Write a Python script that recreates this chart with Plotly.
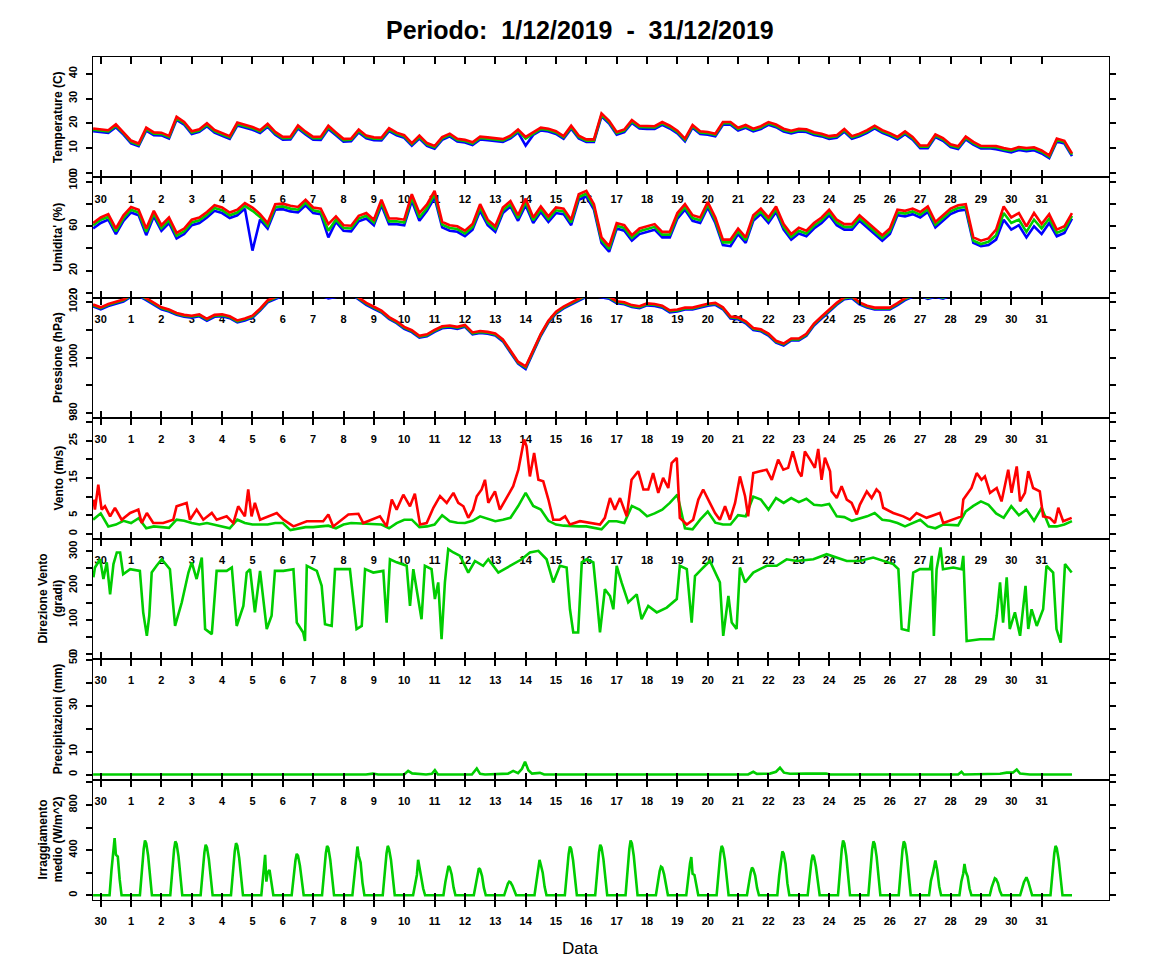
import pandas as pd
import plotly.graph_objects as go

# ---------------- data ----------------
# 6-hourly series starting 2019-11-29 18:00
T_max = [17.9, 17.7, 17.2, 19.6, 16.5, 13.0, 11.8, 18.2, 16.3, 16.2, 14.9, 22.6, 20.5, 16.8, 17.6, 20.0, 17.3, 16.0, 14.8, 20.3,
         19.5, 18.5, 17.2, 19.8, 16.5, 14.5, 14.6, 19.1, 16.6, 14.5, 14.6, 19.0, 16.3, 13.7, 13.8, 17.5, 15.0, 14.3, 14.2, 18.0,
         16.2, 15.2, 12.0, 15.0, 12.0,
         10.8, 14.4, 15.8, 13.7, 13.3, 12.3, 14.6, 14.3, 13.9, 13.6, 15.0, 17.5, 14.5, 16.4, 18.2, 17.8, 16.8, 14.8, 19.0, 15.0,
         13.5, 13.5, 24.0, 21.0, 16.5, 17.5, 21.3, 19.0, 18.8, 18.8, 20.5, 19.0, 17.0, 13.8, 19.3, 16.8, 16.5, 15.8, 20.5, 20.5,
         18.2, 19.3, 17.8, 18.8, 20.5, 19.5, 17.8, 17.0, 17.8, 17.6, 16.4, 15.8, 14.8, 15.2, 17.7, 14.8, 15.8, 17.2, 19.0, 17.2,
         16.0, 14.5, 16.7, 14.5, 11.0, 11.0, 15.5, 14.0, 11.5, 10.7, 14.6, 12.5, 10.9, 11.0, 10.8, 10.0, 9.4, 10.4, 10.0, 10.3,
         9.0, 7.0, 13.8, 12.9, 7.8]
T_mean = [17.4, 17.2, 16.7, 19.0, 16.0, 12.5, 11.3, 17.6, 15.8, 15.7, 14.4, 22.0, 20.0, 16.3, 17.1, 19.4, 16.8, 15.5, 14.3, 19.7,
          19.0, 18.0, 16.7, 19.2, 16.0, 14.0, 14.1, 18.5, 16.1, 14.0, 14.0, 18.4, 15.8, 13.2, 13.3, 16.9, 14.5, 13.8, 13.7, 17.4,
          15.7, 14.7, 11.5, 14.4, 11.5,
          10.3, 13.9, 15.3, 13.2, 12.8, 11.8, 14.1, 13.8, 13.4, 13.1, 14.5, 16.9, 13.8, 15.9, 17.7, 17.3, 16.3, 14.3, 18.4, 14.5,
          13.0, 13.0, 23.4, 20.5, 16.0, 17.0, 20.7, 18.5, 18.3, 18.3, 20.0, 18.5, 16.5, 13.3, 18.8, 16.3, 16.0, 15.3, 20.0, 20.0,
          17.7, 18.8, 17.3, 18.3, 20.0, 19.0, 17.3, 16.5, 17.3, 17.1, 15.9, 15.3, 14.3, 14.7, 17.2, 14.3, 15.3, 16.7, 18.5, 16.7,
          15.5, 14.0, 16.2, 14.0, 10.5, 10.5, 15.0, 13.5, 11.0, 10.2, 14.1, 12.0, 10.4, 10.5, 10.3, 9.4, 8.9, 9.9, 9.4, 9.8,
          8.5, 6.5, 13.2, 12.4, 7.3]
T_min = [16.8, 16.6, 16.1, 18.4, 15.4, 11.9, 10.8, 17.0, 15.2, 15.1, 13.8, 21.4, 19.4, 15.7, 16.5, 18.8, 16.2, 14.9, 13.7, 19.1,
         18.4, 17.4, 16.1, 18.6, 15.4, 13.4, 13.5, 17.9, 15.5, 13.4, 13.3, 17.7, 15.2, 12.6, 12.7, 16.3, 13.9, 13.2, 13.1, 16.8,
         15.1, 14.1, 10.9, 13.8, 10.9,
         9.7, 13.3, 14.7, 12.6, 12.2, 11.2, 13.5, 13.2, 12.8, 12.5, 13.9, 16.3, 11.0, 15.3, 17.1, 16.7, 15.7, 13.7, 17.8, 13.9,
         12.4, 12.4, 22.8, 19.9, 15.4, 16.4, 20.1, 17.9, 17.7, 17.7, 19.4, 17.9, 15.9, 12.7, 18.2, 15.7, 15.4, 14.7, 19.4, 19.4,
         17.1, 18.2, 16.7, 17.7, 19.4, 18.4, 16.7, 15.9, 16.7, 16.5, 15.3, 14.7, 13.7, 14.1, 16.6, 13.7, 14.7, 16.1, 17.9, 16.1,
         14.9, 13.4, 15.6, 13.4, 9.9, 9.9, 14.4, 12.9, 10.4, 9.6, 13.5, 11.4, 9.8, 9.9, 9.5, 8.8, 8.2, 9.2, 8.7, 9.1,
         7.8, 5.9, 12.6, 11.8, 6.7]

H_max = [63, 68, 71, 58, 70, 77.5, 75, 58, 74, 61, 68, 54, 58, 66, 68, 73, 79, 77, 72.5, 75,
         81, 77, 71, 63, 80, 80.5, 78.5, 77.5, 84, 77, 76, 62, 69, 61, 60.5, 69.5, 72, 66, 84, 67,
         67, 66, 89, 72, 79.8,
         92, 64, 61, 60, 56, 62, 80, 66, 60, 77, 82.8, 70, 85, 68, 78, 69, 77, 76, 66, 89,
         92, 80, 50, 42, 63, 61, 52, 58, 60, 62, 55, 55, 72, 80, 70, 68, 82, 68, 48, 48,
         58, 50, 70, 76, 68, 78, 62, 53, 58.8, 56, 63, 68, 75, 66, 62, 62, 70, 64, 58, 52,
         58, 75, 74, 76, 73, 78, 64, 70, 76, 79, 80, 50, 47, 49, 57, 78, 68, 72, 60, 72,
         62, 71, 57, 60, 72]
H_mean = [61, 66, 68.5, 55.5, 67.5, 75, 72.5, 55, 71.5, 58.5, 65.5, 51.5, 55.5, 63.5, 65.5, 70.5, 76.5, 74.5, 70, 72.5,
          78.5, 74, 68.5, 60.5, 77.5, 78, 76, 75, 81.5, 74.5, 73, 56, 66, 58.5, 58, 67, 69.5, 63.5, 81.5, 64.5,
          64.5, 63.5, 86, 68, 76.5,
          89, 61.5, 58.5, 57.5, 53.5, 59.5, 77, 63.5, 57.5, 74.5, 80, 67.5, 82, 65.5, 75.5, 66.5, 74.5, 73.5, 63.5, 86.5,
          89.5, 77.5, 47.5, 39.5, 60.5, 58.5, 49.5, 55.5, 57.5, 59.5, 52.5, 52.5, 69.5, 77.5, 67.5, 65.5, 79.5, 65.5, 45.5, 45.5,
          55.5, 47.5, 67.5, 73.5, 65.5, 75.5, 59.5, 50.5, 56, 53.5, 60.5, 65.5, 72.5, 63.5, 59.5, 59.5, 67.5, 61.5, 55.5, 49.5,
          55.5, 72.5, 71.5, 73.5, 70.5, 75.5, 61.5, 67.5, 73.5, 76.5, 77.5, 47, 44, 46, 52, 72, 63, 66, 55, 66,
          58, 67, 54, 57, 69.5]
H_min = [58, 63, 66, 53, 65, 72.5, 70, 52, 69, 56, 63, 49, 53, 61, 63, 68, 74, 72, 67.5, 70,
         76, 38, 66, 58, 75, 75.5, 73.5, 72.5, 79, 72, 71, 50, 64, 56, 55.5, 64.5, 67, 61, 79, 62,
         62, 61, 83, 65, 74,
         86, 59, 56, 55, 51, 57, 74, 61, 55, 72, 78, 65, 79, 63, 73, 64, 72, 71, 61, 84,
         87, 75, 45, 37, 58, 56, 47, 53, 55, 57, 50, 50, 67, 75, 65, 63, 77, 63, 43, 42,
         53, 45, 65, 71, 63, 73, 57, 48, 53.5, 51, 58, 63, 70, 61, 57, 57, 65, 59, 53, 47,
         53, 70, 69, 71, 68, 73, 59, 65, 71, 74, 75, 45, 42, 43, 48, 66, 57, 61, 50, 60,
         53, 63, 51, 54, 67]

P_max = [1019.0, 1018.0, 1019.2, 1020.0, 1020.8, 1022.5, 1022.8, 1021.3, 1019.7, 1018.0, 1017.2, 1016.0, 1015.3, 1015.0, 1015.5,
         1013.9, 1015.3, 1015.5, 1014.8, 1013.3, 1014.0, 1015.0, 1017.5, 1020.5, 1021.7, 1023.0, 1024.0, 1024.5, 1024.0, 1023.5,
         1023.0, 1023.0, 1022.5, 1023.0, 1023.5, 1021.5, 1019.6, 1018.2, 1016.8, 1014.5, 1013.0, 1011.0, 1009.8, 1007.8, 1008.3,
         1009.9, 1011.2, 1011.5, 1011.0, 1011.7, 1009.0, 1009.5, 1009.2, 1008.6, 1006.5, 1002.5, 998.5, 996.8, 1002.5, 1008.5,
         1013.2, 1016.4, 1018.3, 1019.8, 1021.0, 1022.5, 1022.8, 1022.3, 1021.8, 1020.2, 1019.8, 1018.8, 1018.4, 1019.4, 1019.2,
         1018.6, 1016.9, 1017.2, 1017.9, 1017.9, 1018.5, 1019.3, 1019.6, 1018.0, 1014.7, 1014.4, 1013.0, 1010.6, 1010.1, 1008.6,
         1006.0, 1005.0, 1006.8, 1006.8, 1008.5, 1012.2, 1014.7, 1017.2, 1019.6, 1021.6, 1022.0, 1019.8, 1018.6, 1017.9, 1017.9,
         1017.9, 1019.5, 1021.3, 1022.5, 1022.8, 1021.7, 1022.5, 1021.8, 1023.0, 1024.0, 1025.0, 1026.0, 1027.0, 1028.0, 1028.0,
         1029.0, 1029.0, 1029.0, 1030.0, 1030.0, 1030.0, 1029.0, 1029.0, 1028.0, 1028.0]
P_mean = [1018.7, 1017.7, 1018.9, 1019.7, 1020.5, 1022.2, 1022.5, 1021.0, 1019.4, 1017.7, 1016.9, 1015.7, 1015.0, 1014.7, 1015.2,
          1013.6, 1015.0, 1015.2, 1014.5, 1013.0, 1013.7, 1014.7, 1017.2, 1020.2, 1021.4, 1022.7, 1023.7, 1024.2, 1023.7, 1023.2,
          1022.7, 1022.7, 1022.2, 1022.7, 1023.2, 1021.2, 1019.3, 1017.9, 1016.5, 1014.2, 1012.7, 1010.7, 1009.5, 1007.5, 1008.0,
          1009.6, 1010.9, 1011.2, 1010.7, 1011.4, 1008.7, 1009.2, 1008.9, 1008.3, 1006.2, 1002.2, 998.2, 996.5, 1002.2, 1008.2,
          1012.9, 1016.1, 1018.0, 1019.5, 1020.7, 1022.2, 1022.5, 1022.0, 1021.5, 1019.9, 1019.5, 1018.5, 1018.1, 1019.1, 1018.9,
          1018.3, 1016.6, 1016.9, 1017.6, 1017.6, 1018.2, 1019.0, 1019.3, 1017.7, 1014.4, 1014.1, 1012.7, 1010.3, 1009.8, 1008.3,
          1005.7, 1004.7, 1006.5, 1006.5, 1008.2, 1011.9, 1014.4, 1016.9, 1019.3, 1021.3, 1021.7, 1019.5, 1018.3, 1017.6, 1017.6,
          1017.6, 1019.2, 1021.0, 1022.2, 1022.5, 1021.4, 1022.2, 1021.5, 1022.7, 1023.7, 1024.7, 1025.7, 1026.7, 1027.7, 1027.7,
          1028.7, 1028.7, 1028.7, 1029.7, 1029.7, 1029.7, 1028.7, 1028.7, 1027.7, 1027.7]
P_min = [1018.3, 1017.3, 1018.5, 1019.3, 1020.1, 1021.8, 1022.1, 1020.6, 1019.0, 1017.3, 1016.5, 1015.3, 1014.6, 1014.3, 1014.8,
         1013.2, 1014.6, 1014.8, 1014.1, 1012.6, 1013.3, 1014.3, 1016.8, 1019.8, 1021.0, 1022.3, 1023.3, 1023.8, 1023.3, 1022.8,
         1022.3, 1021.2, 1021.8, 1022.3, 1022.8, 1020.8, 1018.9, 1017.5, 1016.1, 1013.8, 1012.3, 1010.3, 1009.1, 1007.1, 1007.6,
         1009.2, 1010.5, 1010.8, 1010.3, 1011.0, 1008.3, 1008.8, 1008.5, 1007.9, 1005.8, 1001.8, 997.8, 995.9, 1001.8, 1007.8,
         1012.5, 1015.7, 1017.6, 1019.1, 1020.3, 1021.8, 1022.1, 1021.6, 1021.1, 1019.5, 1019.1, 1018.1, 1017.7, 1018.7, 1018.5,
         1017.9, 1016.2, 1016.5, 1017.2, 1017.2, 1017.8, 1018.6, 1018.9, 1017.3, 1014.0, 1013.7, 1012.3, 1009.9, 1009.4, 1007.9,
         1005.3, 1004.3, 1006.1, 1006.1, 1007.8, 1011.5, 1014.0, 1016.5, 1018.9, 1020.9, 1021.3, 1019.1, 1017.9, 1017.2, 1017.2,
         1017.2, 1018.8, 1020.6, 1021.8, 1022.1, 1021.0, 1021.8, 1021.1, 1022.3, 1023.3, 1024.3, 1025.3, 1026.3, 1027.3, 1027.3,
         1028.3, 1028.3, 1028.3, 1029.3, 1029.3, 1029.3, 1028.3, 1028.3, 1027.3, 1027.3]

W_mean = [3.8, 5.5, 2.0, 2.5, 3.5, 2.9, 4.2, 1.5, 2.0, 1.8, 1.6, 3.8, 3.5, 2.9, 2.5, 2.9, 2.5, 2.0, 1.5, 3.8,
          2.9, 2.5, 2.5, 2.5, 2.9, 2.9, 1.0, 1.5, 1.8, 1.8, 2.0, 2.2, 1.5, 2.5, 2.9, 2.8, 2.5, 2.5, 2.5, 1.5,
          2.9, 3.8, 3.8, 1.8, 2.0,
          2.5, 5.0, 3.4, 3.0, 2.9, 3.5, 4.7, 4.0, 3.4, 3.8, 4.3, 7.4, 11.0, 7.5, 6.5, 3.5, 2.5, 2.2, 2.0, 2.0,
          2.0, 1.5, 1.2, 3.4, 3.4, 2.9, 7.5, 6.5, 4.7, 5.5, 6.5, 8.3, 10.5, 1.5, 1.2, 3.8, 6.0, 3.0, 2.5, 2.5,
          5.0, 4.7, 10.0, 9.2, 6.5, 9.6, 8.3, 9.6, 8.5, 9.4, 7.8, 7.6, 8.0, 4.7, 4.5, 3.5, 4.0, 4.7, 5.6, 3.8,
          3.5, 2.9, 2.0, 3.0, 3.8, 2.0, 1.5, 2.5, 2.5, 2.3, 6.0, 7.5, 8.7, 7.8, 5.5, 4.3, 7.4, 5.0, 6.5, 3.5,
          7.0, 2.0, 2.0, 2.5, 3.4]

# wind gust: days after 30 Nov 00:00, m/s
gust_day = [-0.24, -0.19, -0.08, 0.03, 0.14, 0.31, 0.47, 0.69, 0.97, 1.24, 1.35, 1.52, 1.73, 2.06, 2.39, 2.50, 2.83, 2.94,
            3.16, 3.38, 3.66, 3.82, 4.15, 4.37, 4.53, 4.75, 4.86, 4.97, 5.08, 5.25, 5.80, 6.02, 6.35, 6.79, 7.33, 7.50,
            7.66, 8.16, 8.49, 8.65, 9.20, 9.42, 9.59, 9.75, 9.97, 10.19, 10.35, 10.52, 10.74, 10.96, 11.18, 11.40, 11.62,
            11.78, 11.95, 12.11, 12.27, 12.39, 12.55, 12.66, 12.77, 12.99, 13.15, 13.38, 13.59, 13.76, 13.87, 13.95, 14.03,
            14.14, 14.28, 14.42, 14.58, 14.75, 14.91, 15.13, 15.30, 15.46, 15.79, 16.12, 16.45, 16.61, 16.78, 16.94, 17.11,
            17.33, 17.49, 17.71, 17.88, 18.04, 18.20, 18.37, 18.53, 18.70, 18.81, 18.98, 19.08, 19.31, 19.52, 19.69, 19.85,
            20.07, 20.24, 20.40, 20.57, 20.73, 20.90, 21.06, 21.23, 21.33, 21.50, 21.72, 21.94, 22.11, 22.32, 22.49, 22.65,
            22.80, 22.98, 23.09, 23.20, 23.37, 23.53, 23.64, 23.75, 23.86, 24.03, 24.08, 24.25, 24.41, 24.58, 24.74, 24.91,
            25.01, 25.24, 25.40, 25.56, 25.67, 25.78, 26.11, 26.44, 26.66, 26.88, 27.21, 27.65, 27.76, 28.09, 28.36, 28.42,
            28.53, 28.69, 28.86, 29.02, 29.13, 29.30, 29.52, 29.68, 29.90, 30.01, 30.18, 30.29, 30.45, 30.56, 30.72, 30.94,
            31.05, 31.27, 31.44, 31.55, 31.71, 31.99]
gust_ms = [9.2, 6.5, 13.2, 6.5, 7.4, 4.7, 7.0, 3.8, 5.6, 6.5, 2.9, 5.6, 2.9, 2.9, 3.8, 7.4, 8.3, 3.8,
           6.5, 3.8, 5.6, 3.8, 4.7, 2.9, 7.4, 4.7, 11.9, 4.7, 8.3, 3.8, 5.6, 3.8, 2.0, 3.4, 3.4, 5.2,
           2.0, 5.2, 5.4, 2.9, 4.7, 2.0, 9.2, 6.5, 10.5, 7.4, 10.8, 2.5, 2.9, 7.0, 10.1, 8.3, 11.0,
           8.3, 7.4, 4.3, 6.5, 10.1, 11.9, 14.5, 8.3, 11.4, 6.5, 9.6, 12.8, 17.2, 22.6, 25.3, 23.5,
           15.4, 21.7, 14.5, 14.1, 9.2, 3.8, 3.8, 4.7, 2.5, 3.4, 2.9, 2.5, 4.3, 9.6, 6.5, 9.6,
           4.7, 14.5, 16.8, 11.9, 11.9, 16.3, 11.0, 15.0, 12.3, 19.0, 20.4, 4.3, 2.5, 3.8, 9.2, 11.9,
           8.3, 5.6, 3.8, 7.4, 3.8, 8.3, 15.4, 10.1, 4.7, 16.3, 16.8, 17.2, 14.5, 19.9, 17.2, 17.7,
           22.1, 16.8, 15.4, 22.1, 19.9, 17.7, 22.8, 14.5, 20.4, 16.8, 11.4, 9.6, 12.8, 9.2, 8.3, 5.2,
           7.8, 11.4, 9.6, 11.9, 11.0, 7.0, 5.6, 4.7, 3.8, 5.6, 4.3, 5.6, 2.9, 3.8, 4.7, 9.2,
           10.5, 12.3, 16.3, 14.5, 15.4, 11.0, 12.3, 8.7, 17.2, 11.0, 18.1, 8.7, 11.0, 16.8, 12.3, 11.4,
           4.7, 4.3, 2.9, 7.0, 3.4, 4.3]

# wind direction: days after 30 Nov 00:00, degrees
dir_day = [-0.24, -0.19, -0.02, 0.09, 0.20, 0.31, 0.42, 0.53, 0.64, 0.74, 0.97, 1.29, 1.40, 1.52, 1.60, 1.68, 1.84, 2.01,
           2.28, 2.45, 2.67, 2.89, 3.00, 3.16, 3.33, 3.44, 3.66, 3.82, 4.15, 4.32, 4.48, 4.70, 4.81, 4.92, 5.08, 5.25, 5.47,
           5.63, 5.74, 6.02, 6.35, 6.46, 6.67, 6.73, 6.79, 7.12, 7.28, 7.39, 7.61, 7.72, 8.21, 8.43, 8.60, 8.71, 8.98, 9.31,
           9.42, 9.53, 9.75, 10.08, 10.19, 10.30, 10.57, 10.68, 10.90, 11.01, 11.12, 11.23, 11.34, 11.45, 11.62, 11.84, 12.11,
           12.33, 12.60, 12.77, 13.10, 13.48, 13.87, 14.14, 14.42, 14.69, 14.91, 15.13, 15.35, 15.46, 15.57, 15.73, 15.85,
           16.01, 16.23, 16.34, 16.45, 16.61, 16.78, 16.89, 17.00, 17.16, 17.38, 17.66, 17.82, 18.04, 18.32, 18.65, 18.98,
           19.08, 19.31, 19.47, 19.58, 19.80, 20.07, 20.40, 20.51, 20.68, 20.79, 20.95, 21.06, 21.23, 21.50, 21.94, 22.27,
           22.60, 22.93, 23.48, 23.92, 24.58, 25.01, 25.45, 26.11, 26.28, 26.39, 26.61, 26.77, 26.99, 27.32, 27.38, 27.45,
           27.54, 27.67, 27.75, 28.09, 28.36, 28.42, 28.53, 28.97, 29.41, 29.52, 29.63, 29.73, 29.85, 29.95, 30.12, 30.29,
           30.47, 30.56, 30.67, 30.84, 31.05, 31.16, 31.38, 31.49, 31.63, 31.77, 31.99]
dir_deg = [224, 253, 277, 219, 268, 174, 263, 297, 297, 233, 248, 243, 121, 52, 111, 238, 258, 277,
           248, 81, 150, 238, 268, 219, 282, 72, 57, 243, 243, 253, 81, 140, 238, 248, 121, 243, 72,
           111, 243, 243, 248, 91, 62, 37, 258, 243, 199, 86, 81, 248, 248, 72, 81, 248, 238, 243,
           91, 277, 268, 258, 140, 248, 101, 258, 248, 160, 209, 42, 209, 307, 297, 287, 238,
           272, 258, 277, 238, 258, 277, 297, 302, 277, 209, 258, 253, 130, 62, 62, 268,
           277, 268, 169, 62, 189, 169, 130, 258, 209, 150, 174, 101, 140, 121, 135, 160,
           258, 248, 91, 228, 248, 272, 209, 52, 169, 91, 72, 253, 209, 238, 258, 258,
           277, 272, 277, 292, 272, 272, 282, 263, 248, 72, 67, 238, 248, 248, 287, 52,
           248, 312, 248, 253, 248, 287, 37, 42, 42, 111, 209, 91, 224, 72, 121, 52,
           199, 72, 130, 81, 130, 258, 238, 72, 32, 263, 238]

# rain: days after 30 Nov 00:00, mm
rain_day = [-0.25, 8.74, 8.97, 9.14, 10.0, 10.13, 10.26, 10.52, 10.72, 10.91, 11.01, 11.11, 12.23, 12.39, 12.50, 12.66,
            13.15, 13.42, 13.59, 13.75, 13.88, 13.98, 14.09, 14.21, 14.47, 14.61, 21.33, 21.50, 21.62, 22.05, 22.25, 22.38,
            22.51, 22.71, 23.24, 23.90, 24.03, 28.25, 28.36, 28.44, 29.63, 29.85, 30.05, 30.18, 30.29, 30.51, 30.61, 32.0]
rain_mm = [0, 0, 0.4, 0, 0, 1.6, 0.5, 0.3, 0, 0.3, 1.9, 0, 0, 2.6, 0.3, 0,
           0.2, 0.4, 1.6, 0.6, 2.5, 5.6, 1.9, 0.4, 0.7, 0, 0, 1.2, 0.3, 0.4, 1.2, 3.0,
           0.8, 0.3, 0.4, 0.4, 0, 0, 1.2, 0, 0.3, 0.8, 0.8, 2.2, 0.4, 0.3, 0, 0]

# solar radiation: hour of day of each reading, and readings for each day (30 Nov .. 31 Dec)
rad_hours = [7, 8.5, 10, 11, 12, 13.5, 15, 16.5]
rad_by_day = [
    [0, 220, 388, 507, 360, 343, 140, 0], [0, 220, 410, 485, 460, 350, 135, 0], [0, 215, 405, 477, 455, 345, 135, 0],
    [0, 200, 380, 447, 425, 320, 125, 0], [0, 210, 390, 462, 440, 330, 130, 0], [0, 180, 358, 121, 200, 225, 90, 0],
    [0, 165, 310, 367, 350, 265, 100, 0], [0, 195, 370, 438, 420, 315, 120, 0], [0, 180, 330, 432, 350, 290, 110, 0],
    [0, 195, 370, 438, 410, 315, 120, 0], [0, 100, 180, 314, 240, 170, 60, 0], [0, 115, 220, 260, 245, 185, 70, 0],
    [0, 105, 205, 240, 228, 172, 65, 0], [0, 55, 103, 121, 115, 87, 35, 0], [0, 120, 216, 314, 270, 200, 75, 0],
    [0, 195, 365, 432, 410, 310, 120, 0], [0, 200, 380, 447, 425, 320, 125, 0], [0, 220, 410, 485, 460, 350, 135, 0],
    [0, 115, 215, 254, 245, 185, 70, 0], [0, 150, 285, 338, 190, 180, 70, 0], [0, 195, 370, 438, 415, 315, 120, 0],
    [0, 110, 205, 245, 230, 175, 65, 0], [0, 175, 330, 388, 370, 280, 105, 0], [0, 160, 305, 358, 340, 255, 100, 0],
    [0, 220, 410, 485, 460, 350, 135, 0], [0, 215, 405, 477, 455, 345, 135, 0], [0, 215, 405, 477, 455, 345, 135, 0],
    [0, 130, 196, 250, 308, 220, 80, 0], [0, 120, 191, 278, 210, 165, 60, 0], [0, 70, 130, 151, 143, 108, 40, 0],
    [0, 65, 115, 138, 160, 118, 45, 0], [0, 195, 370, 438, 415, 315, 120, 0],
]

day_labels = ["30"] + [str(i) for i in range(1, 32)]

# ---------------- build figure ----------------
BASE = pd.Timestamp("2019-11-30 00:00")
START6 = pd.Timestamp("2019-11-29 18:00")


def t6(vals):
    return pd.date_range(START6, periods=len(vals), freq="6h")


def tdays(days):
    return BASE + pd.to_timedelta(days, unit="D")


rad_t = [BASE - pd.Timedelta(hours=6)]
rad_v = [0]
for k, vals in enumerate(rad_by_day):
    for h, v in zip(rad_hours, vals):
        rad_t.append(BASE + pd.Timedelta(days=k, hours=h))
        rad_v.append(v)
rad_t.append(BASE + pd.Timedelta(days=32))
rad_v.append(0)

BLUE, GREEN, RED = "#0000FF", "#00CD00", "#FF0000"
LW = 2.6

panels = [
    dict(series=[(t6(T_min), T_min, BLUE), (t6(T_mean), T_mean, GREEN), (t6(T_max), T_max, RED)],
         rng=[-1.9, 46.8], ticks=[0, 10, 20, 30, 40], labels=["0", "10", "20", "30", "40"],
         title="Temperature (C)"),
    dict(series=[(t6(H_min), H_min, BLUE), (t6(H_mean), H_mean, GREEN), (t6(H_max), H_max, RED)],
         rng=[-4.7, 104.2], ticks=[0, 20, 40, 60, 80, 100], labels=["0", "20", "", "60", "", "100"],
         title="Umidita' (%)"),
    dict(series=[(t6(P_min), P_min, BLUE), (t6(P_mean), P_mean, GREEN), (t6(P_max), P_max, RED)],
         rng=[978.2, 1021.4], ticks=[980, 990, 1000, 1010, 1020], labels=["980", "", "1000", "", "1020"],
         title="Pressione (hPa)"),
    dict(series=[(t6(W_mean), W_mean, GREEN), (tdays(gust_day), gust_ms, RED)],
         rng=[-1.3, 31.0], ticks=[0, 5, 10, 15, 20, 25, 30], labels=["0", "5", "", "15", "", "25", ""],
         title="Vento (m/s)"),
    dict(series=[(tdays(dir_day), dir_deg, GREEN)],
         rng=[-16.5, 337.5], ticks=[0, 50, 100, 150, 200, 250, 300], labels=["0", "", "100", "", "200", "", "300"],
         title="Direzione Vento<br>(gradi)"),
    dict(series=[(tdays(rain_day), rain_mm, GREEN)],
         rng=[-2.2, 50.2], ticks=[0, 10, 20, 30, 40, 50], labels=["0", "10", "", "30", "", "50"],
         title="Precipitazioni (mm)"),
    dict(series=[(rad_t, rad_v, GREEN)],
         rng=[-41.8, 1025], ticks=[0, 200, 400, 600, 800, 1000], labels=["0", "", "400", "", "800", ""],
         title="Irraggiamento<br>medio (W/m^2)"),
]

FIG_W, FIG_H = 1152, 972
ML, MR, MT, MB = 93, 43, 57, 72
plot_w = FIG_W - ML - MR
plot_h = FIG_H - MT - MB
n = len(panels)

FONT = "Liberation Sans, Arial, Helvetica, sans-serif"
tickfont = dict(family=FONT, size=11, color="black", weight="bold")
xr = [BASE + pd.Timedelta(days=-0.254), BASE + pd.Timedelta(days=33.22)]
xticks = [BASE + pd.Timedelta(days=k) for k in range(32)]
AXW = 1.0

fig = go.Figure()
layout = {}
annotations = []
for i, p in enumerate(panels):
    idx = "" if i == 0 else str(i + 1)
    top = 1 - i / n
    bot = 1 - (i + 1) / n
    for (x, y, c) in p["series"]:
        fig.add_trace(go.Scatter(x=x, y=y, mode="lines", line=dict(color=c, width=LW),
                                 xaxis="x" + idx, yaxis="y" + idx, showlegend=False,
                                 hoverinfo="skip"))
    layout["xaxis" + idx] = dict(
        domain=[0, 1], anchor="y" + idx, type="date", range=xr,
        tickmode="array", tickvals=xticks, ticktext=day_labels,
        ticks="inside", ticklen=7, tickwidth=1.6, tickcolor="black",
        showline=True, linecolor="black", linewidth=AXW, mirror="ticks",
        showgrid=False, zeroline=False, tickfont=tickfont, ticklabelstandoff=11,
    )
    layout["yaxis" + idx] = dict(
        domain=[bot, top], anchor="x" + idx, range=p["rng"],
        tickmode="array", tickvals=p["ticks"], ticktext=p["labels"],
        ticks="outside", ticklen=6, tickwidth=1.6, tickcolor="black",
        showline=True, linecolor="black", linewidth=AXW, mirror="ticks",
        showgrid=False, zeroline=False, tickangle=-90, tickfont=tickfont,
        ticklabelstandoff=5,
    )
    two = "<br>" in p["title"]
    cx = 50.5 if two else 58
    annotations.append(dict(
        text=p["title"], xref="paper", yref="paper", x=(cx - ML) / plot_w, y=(top + bot) / 2,
        xanchor="center", yanchor="middle", textangle=-90, showarrow=False,
        font=dict(family=FONT, size=12, color="black", weight="bold"),
    ))

# extra outward ticks below the last panel
layout["xaxis8"] = dict(
    overlaying="x7", anchor="y7", side="bottom", type="date", range=xr,
    tickmode="array", tickvals=xticks, ticktext=[""] * len(xticks), showticklabels=False,
    ticks="outside", ticklen=6, tickwidth=1.6, tickcolor="black",
    showline=False, showgrid=False, zeroline=False,
)
fig.add_trace(go.Scatter(x=[xr[0]], y=[0], mode="markers", marker=dict(opacity=0),
                         xaxis="x8", yaxis="y7", showlegend=False, hoverinfo="skip"))

annotations.append(dict(
    text="Periodo:\u00a0\u00a01/12/2019\u00a0\u00a0-\u00a0\u00a031/12/2019",
    xref="paper", yref="paper", x=(579.5 - ML) / plot_w, y=(FIG_H - MB - 30) / plot_h,
    xanchor="center", yanchor="middle", showarrow=False,
    font=dict(family=FONT, size=25, color="black", weight="bold"),
))
annotations.append(dict(
    text="Data", xref="paper", yref="paper", x=(580 - ML) / plot_w, y=(FIG_H - MB - 948) / plot_h,
    xanchor="center", yanchor="middle", showarrow=False,
    font=dict(family=FONT, size=17, color="black"),
))

fig.update_layout(
    width=FIG_W, height=FIG_H, autosize=False,
    margin=dict(l=ML, r=MR, t=MT, b=MB, pad=0),
    paper_bgcolor="white", plot_bgcolor="white",
    showlegend=False, annotations=annotations, **layout,
)

fig.write_html("out.html", config={"displayModeBar": False},
               post_script="document.body.style.margin='0px';document.body.style.padding='0px';")
